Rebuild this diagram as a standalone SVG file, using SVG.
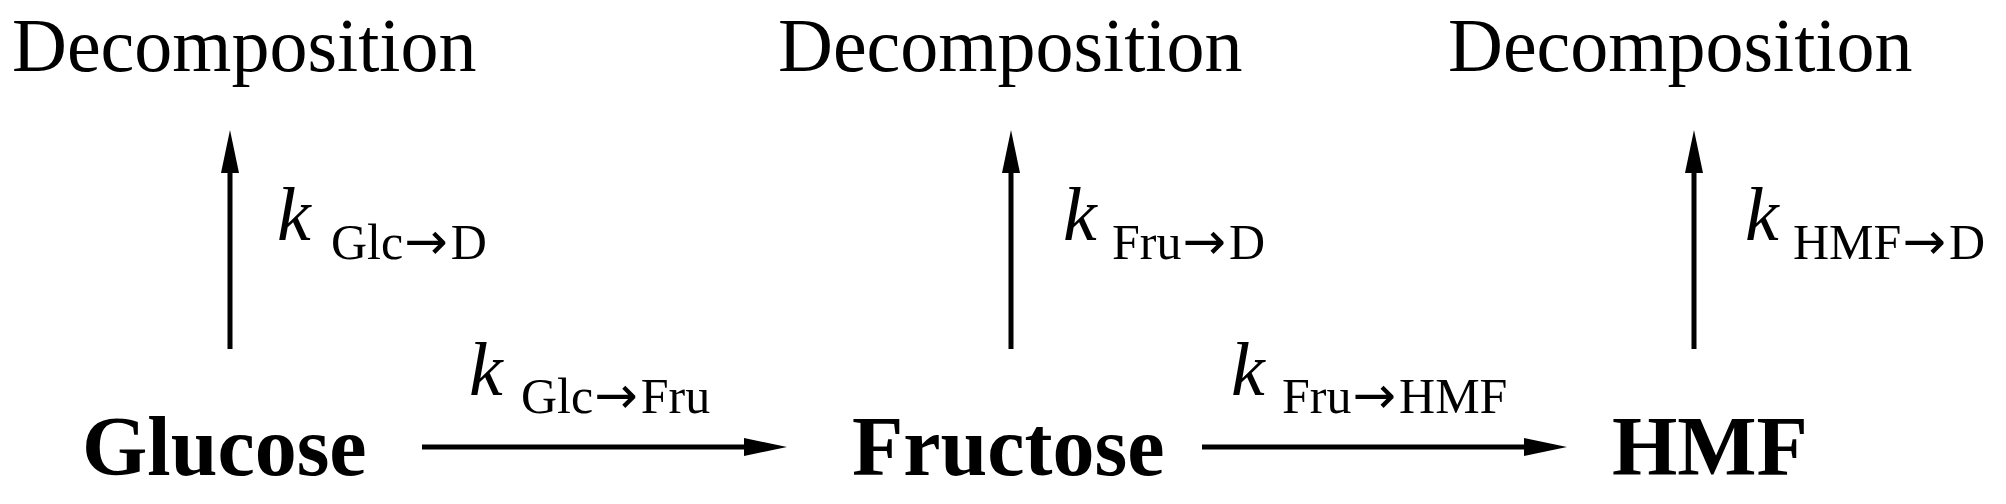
<svg xmlns="http://www.w3.org/2000/svg" width="2006" height="504" viewBox="0 0 2006 504">
<style>
text{font-family:"Liberation Serif","Times New Roman",serif;fill:#000}
.dec{font-size:76px}
.k{font-size:76px;font-style:italic}
.sub{font-size:50px}
.ar{font-family:"DejaVu Sans",sans-serif;font-size:52px}
.node{font-size:84px;font-weight:bold}
.arr{stroke:#000;stroke-width:5;fill:none;marker-end:url(#ah)}
</style>
<defs>
<marker id="ah" markerUnits="userSpaceOnUse" markerWidth="44" markerHeight="20" refX="13" refY="9" orient="auto" overflow="visible">
<path d="M0,0 L43,9 L0,18 Z" fill="#000"/>
</marker>
</defs>
<rect width="2006" height="504" fill="#fff"/>
<g id="connectors">
<line class="arr" x1="230" y1="349" x2="230" y2="160"/>
<line class="arr" x1="1011" y1="349" x2="1011" y2="160"/>
<line class="arr" x1="1694" y1="349" x2="1694" y2="160"/>
<line class="arr" x1="422" y1="447" x2="757" y2="447"/>
<line class="arr" x1="1202" y1="447" x2="1537" y2="447"/>
</g>
<g id="labels">
<g id="label-glc-d"><text class="k" x="277" y="240">k</text><text class="sub" x="331" y="259">Glc<tspan class="ar" dx="1">→</tspan><tspan dx="3">D</tspan></text></g>
<g id="label-fru-d"><text class="k" x="1063" y="240">k</text><text class="sub" x="1112" y="259">Fru<tspan class="ar" dx="1">→</tspan><tspan dx="3">D</tspan></text></g>
<g id="label-hmf-d"><text class="k" x="1745" y="240">k</text><text class="sub" x="1793" y="259">HMF<tspan class="ar" dx="1">→</tspan><tspan dx="3">D</tspan></text></g>
<g id="label-glc-fru"><text class="k" x="469" y="395">k</text><text class="sub" x="521" y="413">Glc<tspan class="ar" dx="1">→</tspan><tspan dx="3">Fru</tspan></text></g>
<g id="label-fru-hmf"><text class="k" x="1231" y="395">k</text><text class="sub" x="1282" y="413">Fru<tspan class="ar" dx="1">→</tspan><tspan dx="3">HMF</tspan></text></g>
</g>
<g id="decomp-1"><text class="dec" x="12" y="71">Decomposition</text></g>
<g id="decomp-2"><text class="dec" x="778" y="71">Decomposition</text></g>
<g id="decomp-3"><text class="dec" x="1448" y="71">Decomposition</text></g>
<g id="glucose"><text class="node" x="82" y="475">Glucose</text></g>
<g id="fructose"><text class="node" x="852" y="475">Fructose</text></g>
<g id="hmf"><text class="node" x="1612" y="475">HMF</text></g>
</svg>
